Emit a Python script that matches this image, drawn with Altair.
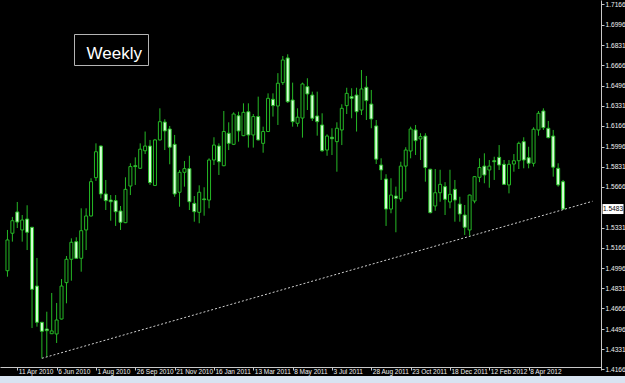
import altair as alt
import pandas as pd

# GBP/USD weekly candles; week index 0 = week starting 28 Mar 2010
opens = [1.4976, 1.5284, 1.5459, 1.5311, 1.5401, 1.5333, 1.4850, 1.4552, 1.4497, 1.4458,
         1.4456, 1.4579, 1.4878, 1.5070, 1.5215, 1.5078, 1.5311, 1.5426, 1.5741, 1.6001,
         1.5607, 1.5557, 1.5552, 1.5467, 1.5371, 1.5672, 1.5839, 1.5818, 1.5962, 1.6001,
         1.5677, 1.6051, 1.6198, 1.6141, 1.6015, 1.5621, 1.5785, 1.5815, 1.5530, 1.5456,
         1.5566, 1.5557, 1.5886, 1.6001, 1.5839, 1.6106, 1.6015, 1.6250, 1.6086, 1.6283,
         1.6092, 1.6243, 1.6023, 1.6120, 1.6385, 1.6330, 1.6522, 1.6725, 1.6379, 1.6188,
         1.6231, 1.6489, 1.6420, 1.6248, 1.6174, 1.5968, 1.6073, 1.6037, 1.6133, 1.6333,
         1.6407, 1.6420, 1.6297, 1.6484, 1.6346, 1.6166, 1.5845, 1.5730, 1.5483, 1.5590,
         1.5566, 1.5836, 1.5960, 1.6133, 1.6059, 1.6083, 1.5810, 1.5508, 1.5617, 1.5667,
         1.5541, 1.5645, 1.5524, 1.5434, 1.5311, 1.5549, 1.5744, 1.5836, 1.5804, 1.5880,
         1.5908, 1.5851, 1.5681, 1.5853, 1.5880, 1.6037, 1.5905, 1.5859, 1.6133, 1.6289,
         1.6147, 1.6083, 1.5818, 1.5708]
highs = [1.5311, 1.5418, 1.5541, 1.5434, 1.5514, 1.5336, 1.5081, 1.4555, 1.4639, 1.4793,
         1.4711, 1.4908, 1.5097, 1.5242, 1.5251, 1.5489, 1.5489, 1.5736, 1.6023, 1.6005,
         1.5722, 1.5598, 1.5598, 1.5508, 1.5744, 1.5859, 1.5908, 1.6023, 1.6120, 1.6051,
         1.6059, 1.6311, 1.6221, 1.6166, 1.6092, 1.5804, 1.5878, 1.5921, 1.5590, 1.5678,
         1.5662, 1.5900, 1.6073, 1.6023, 1.6289, 1.6196, 1.6278, 1.6283, 1.6352, 1.6352,
         1.6264, 1.6407, 1.6160, 1.6434, 1.6434, 1.6600, 1.6741, 1.6755, 1.6522, 1.6311,
         1.6522, 1.6558, 1.6448, 1.6448, 1.6270, 1.6097, 1.6147, 1.6196, 1.6344, 1.6480,
         1.6476, 1.6480, 1.6626, 1.6577, 1.6462, 1.6215, 1.5900, 1.5769, 1.5736, 1.5667,
         1.5872, 1.5991, 1.6160, 1.6174, 1.6106, 1.6106, 1.5814, 1.5812, 1.5806, 1.5704,
         1.5806, 1.5722, 1.5584, 1.5516, 1.5602, 1.5753, 1.5900, 1.5941, 1.5886, 1.5913,
         1.6009, 1.5886, 1.5886, 1.5935, 1.6037, 1.6073, 1.5995, 1.6155, 1.6289, 1.6311,
         1.6207, 1.6133, 1.5859, 1.5722]
lows = [1.4927, 1.5215, 1.5327, 1.5215, 1.5146, 1.4505, 1.4516, 1.4256, 1.4269, 1.4456,
        1.4382, 1.4575, 1.4708, 1.4894, 1.5075, 1.4968, 1.5146, 1.5422, 1.5714, 1.5571,
        1.5475, 1.5387, 1.5344, 1.5311, 1.5367, 1.5598, 1.5681, 1.5814, 1.5935, 1.5681,
        1.5672, 1.6047, 1.5968, 1.5851, 1.5584, 1.5502, 1.5667, 1.5475, 1.5379, 1.5366,
        1.5428, 1.5489, 1.5845, 1.5763, 1.5835, 1.5968, 1.6009, 1.6037, 1.6082, 1.5988,
        1.5988, 1.6047, 1.5946, 1.6116, 1.6243, 1.6174, 1.6503, 1.6355, 1.6160, 1.6160,
        1.6070, 1.6297, 1.6207, 1.6086, 1.5954, 1.5921, 1.5927, 1.5790, 1.6009, 1.6264,
        1.6229, 1.6120, 1.6256, 1.6215, 1.6147, 1.5853, 1.5722, 1.5344, 1.5448, 1.5292,
        1.5543, 1.5626, 1.5900, 1.5927, 1.5886, 1.5708, 1.5448, 1.5469, 1.5543, 1.5434,
        1.5489, 1.5379, 1.5379, 1.5270, 1.5264, 1.5530, 1.5704, 1.5695, 1.5658, 1.5722,
        1.5804, 1.5681, 1.5612, 1.5790, 1.5812, 1.5818, 1.5818, 1.5832, 1.6086, 1.6133,
        1.6064, 1.5749, 1.5667, 1.5478]
closes = [1.5229, 1.5387, 1.5376, 1.5393, 1.5292, 1.4823, 1.4552, 1.4478, 1.4483, 1.4481,
          1.4571, 1.4850, 1.5070, 1.5210, 1.5078, 1.5305, 1.5426, 1.5708, 1.5954, 1.5607,
          1.5552, 1.5543, 1.5461, 1.5374, 1.5645, 1.5832, 1.5832, 1.5975, 1.6001, 1.5700,
          1.6051, 1.6201, 1.6125, 1.5991, 1.5607, 1.5785, 1.5815, 1.5543, 1.5461, 1.5621,
          1.5560, 1.5886, 1.6009, 1.5872, 1.6120, 1.6023, 1.6264, 1.6125, 1.6278, 1.6092,
          1.6243, 1.6051, 1.6120, 1.6393, 1.6333, 1.6517, 1.6708, 1.6365, 1.6201, 1.6238,
          1.6511, 1.6429, 1.6229, 1.6201, 1.5962, 1.6083, 1.6061, 1.6147, 1.6311, 1.6434,
          1.6393, 1.6283, 1.6470, 1.6374, 1.6223, 1.5893, 1.5804, 1.5483, 1.5598, 1.5571,
          1.5836, 1.5968, 1.6141, 1.6045, 1.6078, 1.5824, 1.5453, 1.5617, 1.5686, 1.5563,
          1.5604, 1.5557, 1.5442, 1.5333, 1.5598, 1.5749, 1.5824, 1.5763, 1.5836, 1.5872,
          1.5845, 1.5686, 1.5851, 1.5880, 1.6023, 1.5886, 1.5859, 1.6139, 1.6270, 1.6152,
          1.6070, 1.5827, 1.5681, 1.5483]

tick_weeks = [2, 10, 18, 26, 34, 42, 50, 58, 66, 74, 82, 90, 98, 106]
tick_labels = ["11 Apr 2010", "6 Jun 2010", "1 Aug 2010", "26 Sep 2010", "21 Nov 2010",
               "16 Jan 2011", "13 Mar 2011", "8 May 2011", "3 Jul 2011", "28 Aug 2011",
               "23 Oct 2011", "18 Dec 2011", "12 Feb 2012", "8 Apr 2012"]
price_ticks = [1.7166, 1.6996, 1.6831, 1.6666, 1.6496, 1.6331, 1.6166, 1.5996, 1.5831,
               1.5666, 1.5331, 1.5166, 1.4996, 1.4831, 1.4666, 1.4496, 1.4331, 1.4166]
trend_weeks = [7, 119]
trend_prices = [1.4256, 1.5547]
current_price = [1.5483]
timeframe = ["Weekly"]

GREEN = "#25b825"
BEAR_FILL = "#d6ffd6"
AXIS = "#c8c8c8"
FONT = "Liberation Sans"

df = pd.DataFrame({"week": list(range(len(opens))), "open": opens, "high": highs,
                   "low": lows, "close": closes})
df["dir"] = ["up" if c >= o else "down" for o, c in zip(opens, closes)]
df["body_lo"] = [min(o, c) for o, c in zip(opens, closes)]
df["body_hi"] = [max(o, c) for o, c in zip(opens, closes)]

trend = pd.DataFrame({"week": trend_weeks, "price": trend_prices})
cur = pd.DataFrame({"price": current_price, "label": [f"{p:.4f}" for p in current_price]})
tf = pd.DataFrame({"label": timeframe})

label_expr = "".join(f"datum.value == {w} ? '{l}' : " for w, l in zip(tick_weeks, tick_labels)) + "''"

xscale = alt.Scale(domain=[-0.5, 119.7], nice=False, zero=False)
yscale = alt.Scale(domain=[1.41599, 1.72013], nice=False, zero=False)

xaxis = alt.Axis(values=tick_weeks, labelExpr=label_expr, title=None, grid=False,
                 orient="bottom", offset=-3, tickSize=3, tickCount=40, tickColor=AXIS,
                 domainColor=AXIS, labelColor="#f0f0f0", labelFont=FONT, labelFontSize=6.5,
                 labelAlign="left", labelOffset=1, labelPadding=-2, labelFlush=False,
                 labelOverlap=False)
yaxis = alt.Axis(values=price_ticks, format=".4f", title=None, grid=False, orient="right",
                 tickSize=3, tickCount=40, tickColor=AXIS, domainColor=AXIS,
                 labelColor="#f0f0f0", labelFont=FONT, labelFontSize=6.6, labelPadding=1,
                 labelFlush=False, labelOverlap=False)

base = alt.Chart(df)

wicks = base.mark_rule(color=GREEN, strokeWidth=1).encode(
    x=alt.X("week:Q", scale=xscale, axis=xaxis),
    y=alt.Y("low:Q", scale=yscale, axis=yaxis),
    y2="high:Q",
)

bodies = base.mark_bar(size=3, stroke=GREEN, strokeWidth=1).encode(
    x=alt.X("week:Q", scale=xscale),
    y=alt.Y("body_lo:Q", scale=yscale),
    y2="body_hi:Q",
    fill=alt.Fill("dir:N", scale=alt.Scale(domain=["up", "down"], range=["#000000", BEAR_FILL]),
                  legend=None),
)

trendline = alt.Chart(trend).mark_line(color="#d0d0d0", strokeWidth=1, strokeDash=[2, 2]).encode(
    x=alt.X("week:Q", scale=xscale),
    y=alt.Y("price:Q", scale=yscale),
)

marker_box = alt.Chart(cur).mark_tick(color="#ffffff", size=21, thickness=10, opacity=1).encode(
    x=alt.value(613),
    y=alt.Y("price:Q", scale=yscale),
)
marker_text = alt.Chart(cur).mark_text(color="#000000", font=FONT, fontSize=6.6,
                                       align="center", baseline="middle").encode(
    x=alt.value(613),
    y=alt.Y("price:Q", scale=yscale),
    text="label:N",
)

strip = alt.Chart(tf).mark_rect(color="#d8e3f1").encode(
    x=alt.value(0), x2=alt.value(625), y=alt.value(376), y2=alt.value(383)
)

tf_box = alt.Chart(tf).mark_rect(fill="#000000", stroke="#b4b4b4", strokeWidth=1).encode(
    x=alt.value(74.5), x2=alt.value(148.5), y=alt.value(34.5), y2=alt.value(65.5)
)
tf_text = alt.Chart(tf).mark_text(color="#ffffff", font=FONT, fontSize=17, align="left",
                                  baseline="alphabetic").encode(
    x=alt.value(86.5), y=alt.value(58.5), text="label:N"
)

chart = alt.layer(
    strip, wicks, bodies, trendline, tf_box, tf_text, marker_box, marker_text
).properties(
    width=601, height=370,
    background="#000000",
    padding={"left": 0, "top": 0, "right": 24, "bottom": 13},
    autosize=alt.AutoSizeParams(type="none"),
).configure_view(stroke=None)

chart.save("out.html", embed_options={"renderer": "svg", "actions": False})
